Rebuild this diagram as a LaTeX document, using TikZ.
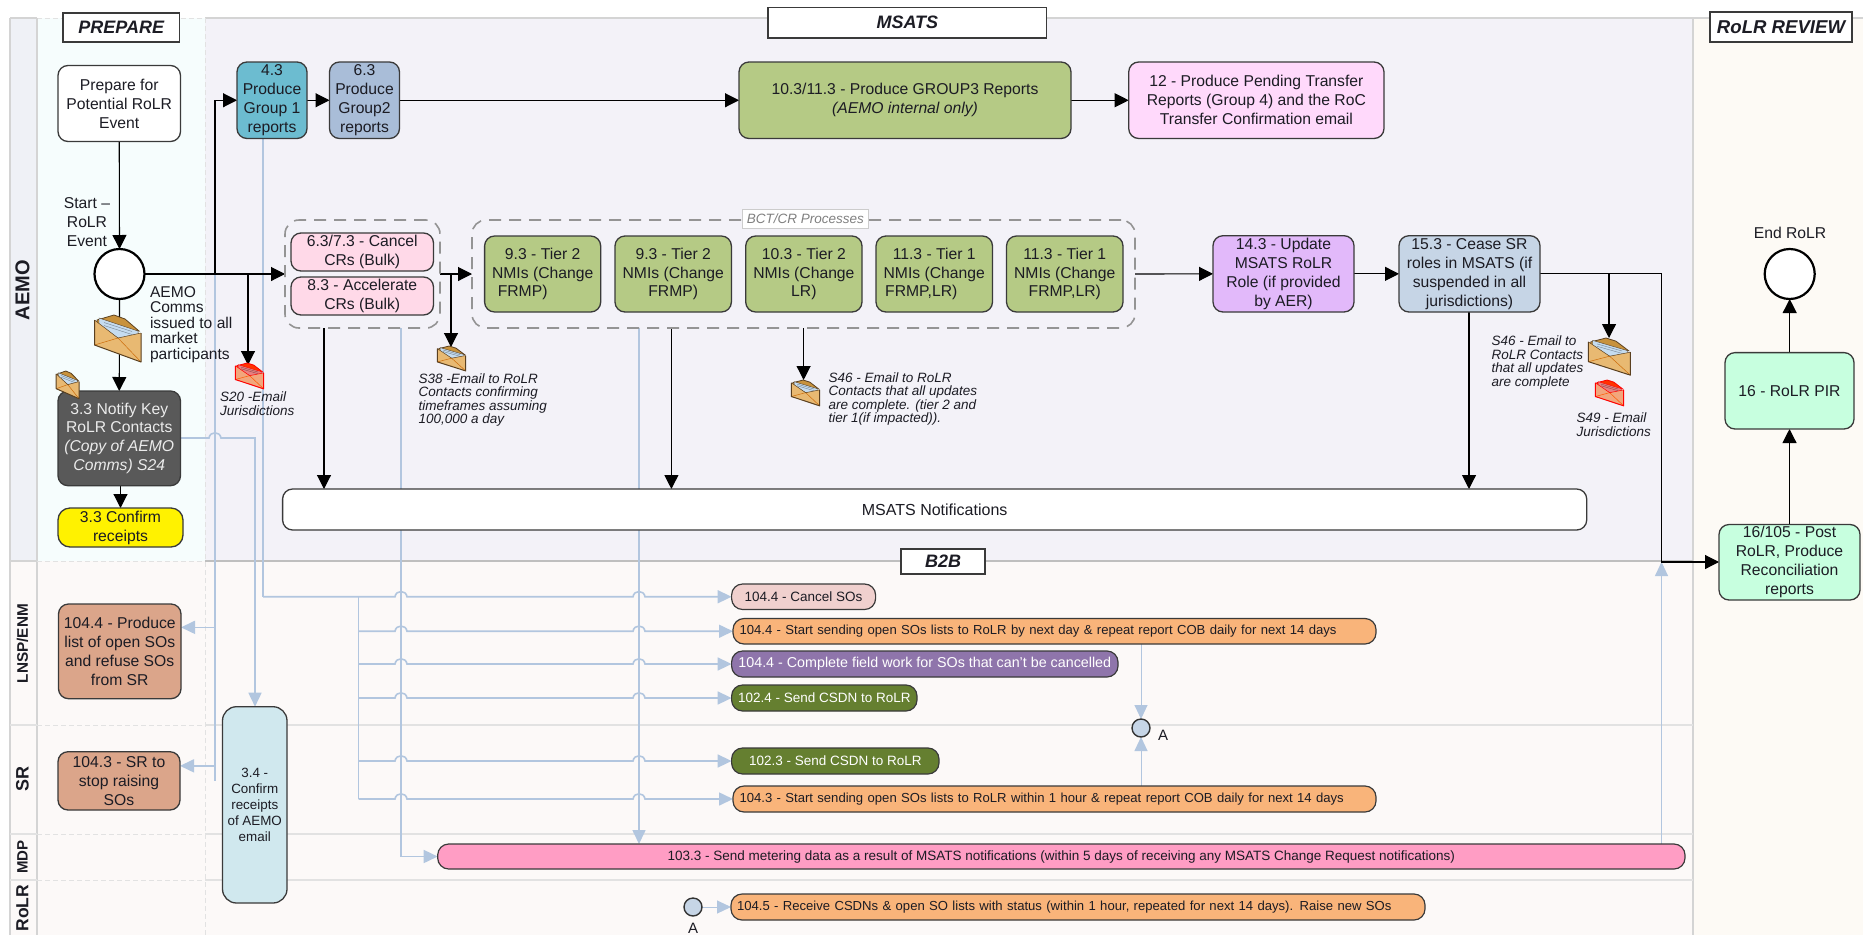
\documentclass[tikz,border=0pt]{standalone}
\usepackage{fontspec}
\setmainfont{Liberation Sans}
\usetikzlibrary{arrows.meta,calc}
\pgfdeclarelayer{bands}
\pgfdeclarelayer{lines}
\pgfsetlayers{bands,lines,main}
\definecolor{bandmsats}{HTML}{F3F2F8}
\definecolor{bandprep}{HTML}{F6FDFD}
\definecolor{bandhead}{HTML}{EFF1F6}
\definecolor{bandlow}{HTML}{FCF9F8}
\definecolor{bandrev}{HTML}{FDFAF5}
\definecolor{grid}{HTML}{D4D4D4}
\definecolor{gridlow}{HTML}{E2E2E2}
\definecolor{wire}{HTML}{B2C6DF}
\definecolor{edge}{HTML}{3A3A3A}
\definecolor{txt}{HTML}{1C1C24}
\definecolor{fteal}{HTML}{6CBCD0}
\definecolor{fslate}{HTML}{A9BDD8}
\definecolor{fgreen}{HTML}{B5CA85}
\definecolor{flilac}{HTML}{FFD9FB}
\definecolor{fpink}{HTML}{FFD9E8}
\definecolor{fpurple}{HTML}{E2B9FA}
\definecolor{fsteel}{HTML}{C6D5E6}
\definecolor{fmint}{HTML}{C7FFDF}
\definecolor{fbrown}{HTML}{DBA58A}
\definecolor{faqua}{HTML}{D0E8EE}
\definecolor{fblush}{HTML}{F0D0CE}
\definecolor{forange}{HTML}{F9B47A}
\definecolor{fviolet}{HTML}{8F75AB}
\definecolor{folive}{HTML}{657F30}
\definecolor{fhot}{HTML}{FF9DC4}
\definecolor{engold}{HTML}{E8B972}
\definecolor{enflap}{HTML}{C8923C}
\definecolor{enline}{HTML}{5A4020}
\definecolor{enletter}{HTML}{C5DCF0}
\definecolor{enrose}{HTML}{F2A67C}
\definecolor{enletterred}{HTML}{E88080}
\newcommand{\fs}[2]{\fontsize{#1}{#2}\selectfont}
\newcommand{\bx}[7]{%
  \pgfmathsetmacro\bxcx{(#2+#4)/2}\pgfmathsetmacro\bxcy{(#3+#5)/2}%
  \pgfmathsetmacro\bxw{#4-#2}\pgfmathsetmacro\bxh{#5-#3}%
  \node[#6,minimum width=\bxw pt,minimum height=\bxh pt] (#1) at (\bxcx,\bxcy) {#7};}
\newcommand{\envraw}[8]{%
  \begin{scope}[shift={(#1,#2)},xscale=#3,yscale=#4]
    \path[draw=#5,fill=#6,line width=.8pt] (3,5) -- (20,0) -- (31,4) -- (45,16) -- (3,12) -- cycle;
    \path[draw=#5,fill=#8,line width=.4pt] (5,3) -- (44,16) -- (45,26) -- (24,23) -- (5,12) -- cycle;
    \path[draw=#8!60!black,line width=.4pt] (10,7.5) -- (38,16.5) (10,10.5) -- (38,19.5);
    \path[fill=#7] (0.5,5) -- (24,23) -- (47,18) -- (47,47) -- (0.5,30) -- cycle;
    \path[draw=#5!30!orange,line width=.5pt] (24,23) -- (47,47) (0.5,30) -- (24,23);
    \path[draw=#5,line width=1pt,line join=round] (0.5,5) -- (0.5,30) -- (47,47) -- (47,18);
    \path[draw=#5,line width=.5pt] (0.5,5) -- (24,23) -- (47,18);
  \end{scope}}
\newcommand{\envgold}[4]{\envraw{#1}{#2}{#3}{#4}{enline}{enflap}{engold}{enletter}}
\newcommand{\envred}[4]{\envraw{#1}{#2}{#3}{#4}{red}{red!60!orange}{enrose}{enletterred}}
\newcommand{\busline}[2]{\draw[wireline] (#1 |- #2.west)
  -- ($(v401 |- #2.west)+(-6,0)$) .. controls +(1,-7) and +(-1,-7) .. ($(v401 |- #2.west)+(6,0)$)
  -- ($(v639 |- #2.west)+(-6,0)$) .. controls +(1,-7) and +(-1,-7) .. ($(v639 |- #2.west)+(6,0)$)
  -- (#2.west);}
\tikzset{
  every node/.style={inner sep=0pt,outer sep=0pt,text=txt},
  boxbase/.style={draw=edge,line width=1.3pt,rounded corners=10pt,align=center,font=\fs{15.7}{18.9}},
  smallbox/.style={boxbase,font=\fs{13.4}{16}},
  pill/.style={draw=edge,line width=1.2pt,rounded corners=11pt,align=center,font=\fs{13.5}{15}},
  pillleft/.style={pill,align=left,text width=#1,font=\fs{13.1}{15}},
  titlebox/.style={draw=edge,line width=1.3pt,fill=white,font=\fs{18}{20}\bfseries\itshape},
  lane/.style={rotate=90,font=\bfseries},
  note/.style={align=left,font=\fs{13.5}{13.4}\itshape},
  label/.style={align=center,font=\fs{15.7}{18.9}},
  dashgroup/.style={draw=black!42,line width=1.6pt,dash pattern=on 12pt off 8pt,rounded corners=14pt},
  flow/.style={draw=black,line width=1.1pt,-{Triangle[length=14pt,width=14pt]}},
  wireline/.style={draw=wire,line width=1.6pt,-{Triangle[length=14pt,width=13pt]}},
  wireplain/.style={draw=wire,line width=1.6pt},
  wirethin/.style={draw=wire,line width=1pt,-{Triangle[length=14pt,width=13pt]}},
  event/.style={circle,draw=black,line width=2.2pt,fill=white,minimum size=50pt},
  connector/.style={circle,draw=black!80,line width=1.4pt,fill=fsteel,minimum size=18pt},
  gridline/.style={draw=grid,line width=1.2pt},
  gridsoft/.style={draw=gridlow,line width=1.2pt},
  griddash/.style={draw=gridlow,line width=1pt,dash pattern=on 5pt off 3pt},
}
\begin{document}
\begin{tikzpicture}[x=1pt,y=-1pt]
\useasboundingbox (0,0) rectangle (1863,935);
% ---------- bands
\begin{pgfonlayer}{bands}
  \fill[bandmsats] (205,18) rectangle (1693,561);
  \fill[bandprep] (37,18) rectangle (205,561);
  \fill[bandhead] (10,18) rectangle (37,561);
  \fill[bandlow] (10,561) rectangle (1693,935);
  \fill[bandrev] (1693,18) rectangle (1863,935);
  \draw[griddash] (37,18) -- (205,18);
  \draw[gridline] (205,18) -- (1863,18);
  \draw[gridline] (10,18) -- (37,18);
  \draw[gridline] (10,18) -- (10,935);
  \draw[gridline] (37,18) -- (37,935);
  \draw[griddash] (205,18) -- (205,935);
  \draw[gridline] (1693,18) -- (1693,935);
  \draw[griddash] (37,561) -- (205,561);
  \draw[griddash] (37,725) -- (205,725);
  \draw[griddash] (37,834) -- (205,834);
  \draw[griddash] (37,880) -- (205,880);
  \draw[draw=black!25,line width=1.6pt] (205,561) -- (1693,561);
  \draw[gridline] (10,561) -- (37,561);
  \draw[gridsoft] (10,725) -- (37,725) (205,725) -- (1693,725);
  \draw[gridsoft] (10,834) -- (37,834) (205,834) -- (1693,834);
  \draw[gridsoft] (10,880) -- (37,880) (205,880) -- (1693,880);
\end{pgfonlayer}
% ---------- titles and lanes
\bx{tprep}{63}{13}{179.5}{42}{titlebox}{PREPARE}
\bx{tmsats}{768}{7.5}{1046.7}{38}{titlebox}{MSATS}
\bx{trev}{1710}{12}{1852}{42}{titlebox,font=\fs{18.6}{20}\bfseries\itshape}{RoLR REVIEW}
\bx{tb2b}{901}{549}{985}{574}{titlebox}{B2B}
\node[lane,font=\fs{20}{22}\bfseries] (laemo) at (22.5,290) {AEMO};
\node[lane,font=\fs{15.3}{17}\bfseries] (llnsp) at (22.5,643.7) {LNSP/ENM};
\node[lane,font=\fs{18}{20}\bfseries] (lsr) at (22.5,779) {SR};
\node[lane,font=\fs{15}{17}\bfseries] (lmdp) at (22.5,857) {MDP};
\node[lane,font=\fs{17.5}{19}\bfseries] (lrolr) at (22.5,908) {RoLR};
% ---------- groups
\bx{g1}{285}{220}{440}{328}{dashgroup}{}
\bx{g2}{472}{220}{1135}{328}{dashgroup}{}
\bx{bct}{742}{209}{868.6}{228}{draw=black!20,line width=1pt,fill=white,text=black!50,font=\fs{13.5}{15}\itshape}{BCT/CR Processes}
% ---------- prepare
\bx{prep}{58}{65.5}{180.5}{141.5}{boxbase,fill=white}{Prepare for\\Potential RoLR\\Event}
\node[event] (start) at (119.5,274) {};
\node[label] (startlab) at (87,222) {Start –\\RoLR\\Event};
\node[note,font=\fs{15.6}{15.6},anchor=west] (commslab) at (150,324.5) {AEMO\\Comms\\issued to all\\market\\participants};
\bx{notify}{58}{391}{180.5}{485.7}{boxbase,fill=black!65,text=black!8}{3.3 Notify Key\\RoLR Contacts\\{\itshape (Copy of AEMO}\\{\itshape Comms) S24}}
\bx{confirm}{58}{508}{183}{547}{boxbase,fill=yellow,rounded corners=12pt}{3.3 Confirm\\receipts}
% ---------- top row
\bx{g1r}{237}{62}{307}{138.5}{boxbase,fill=fteal}{4.3\\Produce\\Group 1\\reports}
\bx{g2r}{329.5}{62}{399.5}{138.5}{boxbase,fill=fslate}{6.3\\Produce\\Group2\\reports}
\bx{g3r}{739}{62}{1071}{138.5}{boxbase,fill=fgreen}{10.3/11.3 - Produce GROUP3 Reports\\{\itshape (AEMO internal only)}}
\bx{g4r}{1128.7}{62}{1384}{138.5}{boxbase,fill=flilac}{12 - Produce Pending Transfer\\Reports (Group 4) and the RoC\\Transfer Confirmation email}
% ---------- middle row
\bx{cancel}{291}{233}{433.5}{271}{boxbase,fill=fpink}{6.3/7.3 - Cancel\\CRs (Bulk)}
\bx{accel}{291}{277}{433.5}{315}{boxbase,fill=fpink}{8.3 - Accelerate\\CRs (Bulk)}
\bx{t1}{484.6}{236}{600.7}{312}{boxbase,fill=fgreen}{9.3 - Tier 2\\NMIs (Change\\FRMP)\rule{40pt}{0pt}}
\bx{t2}{615}{236}{731.4}{312}{boxbase,fill=fgreen}{9.3 - Tier 2\\NMIs (Change\\FRMP)}
\bx{t3}{745.7}{236}{862}{312}{boxbase,fill=fgreen}{10.3 - Tier 2\\NMIs (Change\\LR)}
\bx{t4}{876}{236}{992.5}{312}{boxbase,fill=fgreen}{11.3 - Tier 1\\NMIs (Change\\FRMP,LR)\rule{26pt}{0pt}}
\bx{t5}{1006.5}{236}{1123}{312}{boxbase,fill=fgreen}{11.3 - Tier 1\\NMIs (Change\\FRMP,LR)}
\bx{upd}{1213}{235.7}{1354}{312}{boxbase,fill=fpurple}{14.3 - Update\\MSATS RoLR\\Role (if provided\\by AER)}
\bx{cease}{1399}{235.7}{1540}{312}{boxbase,fill=fsteel}{15.3 - Cease SR\\roles in MSATS (if\\suspended in all\\jurisdictions)}
\bx{notif}{282.6}{489}{1586.7}{530}{boxbase,fill=white,font=\fs{16}{18}}{MSATS Notifications}
% ---------- review
\node[event] (finish) at (1789.7,274) {};
\node[label] (endlab) at (1790,233) {End RoLR};
\bx{pir}{1725}{352.6}{1854}{429}{boxbase,fill=fmint}{16 - RoLR PIR}
\bx{post}{1719}{524.5}{1860}{600}{boxbase,fill=fmint}{16/105 - Post\\RoLR, Produce\\Reconciliation\\reports}
% ---------- B2B participants
\bx{prod}{58.5}{604}{181}{698.7}{boxbase,fill=fbrown}{104.4 - Produce\\list of open SOs\\and refuse SOs\\from SR}
\bx{stop}{58}{751.7}{180}{810}{boxbase,fill=fbrown}{104.3 - SR to\\stop raising\\SOs}
\bx{ack}{222.5}{706.7}{287}{903}{smallbox,rounded corners=14pt,fill=faqua}{3.4 -\\Confirm\\receipts\\of AEMO\\email}
% ---------- pills
\bx{pc}{731.6}{584}{875.6}{609.5}{pill,fill=fblush}{104.4 - Cancel SOs}
\bx{ps}{733}{618.5}{1376}{644}{pillleft=630pt,fill=forange}{104.4 - Start sending open SOs lists to RoLR by next day \& repeat report COB daily for next 14 days}
\bx{pf}{731.6}{651}{1118}{677}{pill,fill=fviolet,text=white,font=\fs{14.3}{15}}{104.4 - Complete field work for SOs that can’t be cancelled}
\bx{pd}{731.6}{685}{917}{711}{pill,fill=folive,text=white}{102.4 - Send CSDN to RoLR}
\bx{pe}{731.6}{748}{939}{774}{pill,fill=folive,text=white}{102.3 - Send CSDN to RoLR}
\bx{pg}{733}{786}{1376}{812}{pillleft=630pt,fill=forange}{104.3 - Start sending open SOs lists to RoLR within 1 hour \& repeat report COB daily for next 14 days}
\bx{pm}{437.7}{844}{1685}{869}{pill,fill=fhot}{103.3 - Send metering data as a result of MSATS notifications (within 5 days of receiving any MSATS Change Request notifications)}
\bx{pr}{731}{894}{1425}{920}{pillleft=682pt,fill=forange}{104.5 - Receive CSDNs \& open SO lists with status (within 1 hour, repeated for next 14 days). Raise new SOs}
\node[connector] (a1) at (1141,728) {};
\node[connector] (a2) at (693,907) {};
\node[font=\fs{15}{16}] (a1lab) at (1163,735) {A};
\node[font=\fs{15}{16}] (a2lab) at (693,928) {A};
% ---------- notes
\node[note,anchor=west] (s20) at (220,403.5) {S20 -Email\\Jurisdictions};
\node[note,anchor=west] (s38) at (418.5,400) {S38 -Email to RoLR\\Contacts confirming\\timeframes assuming\\100,000 a day};
\node[note,anchor=west] (s46a) at (828.6,399) {S46 - Email to RoLR\\Contacts that all updates\\are complete. (tier 2 and\\tier 1(if impacted)).};
\node[note,anchor=west] (s46b) at (1491.7,362.5) {S46 - Email to\\RoLR Contacts\\that all updates\\are complete};
\node[note,anchor=west] (s49) at (1576.7,424.5) {S49 - Email\\Jurisdictions};
% ---------- envelopes
\envgold{94}{315}{1}{1}
\envgold{56}{371}{.49}{.59}
\envred{235}{363}{.61}{.55}
\envgold{437}{346}{.61}{.53}
\envgold{791}{380}{.61}{.55}
\envgold{1588}{338}{.9}{.79}
\envred{1595}{380}{.61}{.55}
% ---------- routing guides and junctions
\coordinate (v215) at (215,0);
\coordinate (v248) at (248,0);
\coordinate (v255) at (255,0);
\coordinate (v263) at (263,0);
\coordinate (v324) at (324,0);
\coordinate (v358) at (358.5,0);
\coordinate (v401) at (401,0);
\coordinate (v451) at (451,0);
\coordinate (v639) at (639,0);
\coordinate (v671) at (671.4,0);
\coordinate (v804) at (803.6,0);
\coordinate (v1469) at (1469,0);
\coordinate (v1609) at (1609,0);
\coordinate (v1661) at (1661.5,0);
\coordinate (h438) at (0,438);
\coordinate (h562) at (0,562);
\coordinate (envS20) at (248,365);
\coordinate (envS38) at (451,347);
\coordinate (envS46) at (803.6,380);
\coordinate (envS46b) at (1609,338);
% ---------- connectors
\begin{pgfonlayer}{lines}
  % blue
  \draw[wireplain] (v215 |- start.east) -- (v215 |- stop.east);
  \draw[wireline] (v215 |- prod.east) ++(0,-24) -- ++(-34,0);
  \draw[wireline] (v215 |- stop.east) ++(0,-15) -- ++(-35,0);
  \draw[wireline] (notify.east |- h438) -- ($(v215 |- h438)+(-6,0)$) .. controls +(1,-7) and +(-1,-7) .. ($(v215 |- h438)+(6,0)$) -- (v255 |- h438) -- (v255 |- ack.north);
  \draw[wireplain] (v263 |- g1r.south) -- (v263 |- pc.west);
  \busline{v263}{pc}
  \draw[wireplain] (v358 |- pc.west) -- (v358 |- pg.west);
  \busline{v358}{ps}
  \busline{v358}{pf}
  \busline{v358}{pd}
  \busline{v358}{pe}
  \busline{v358}{pg}
  \draw[wireline] (v401 |- g1.south) -- (v401 |- pm.west) -- (pm.west);
  \draw[wireline] (v639 |- g2.south) -- (v639 |- pm.north);
  \draw[wirethin] (a1 |- ps.south) -- (a1.north);
  \draw[wirethin] (a1 |- pg.north) -- (a1.south);
  \draw[wirethin] (v1661 |- pm.north) -- (v1661 |- h562);
  \draw[wirethin] (a2.east) -- (pr.west);
  % black
  \draw[flow] (prep.south) -- (start.north);
  \draw[flow] (start.east) -- (g1.west);
  \draw[flow] (v215 |- start.east) -- (v215 |- g1r.west) -- (g1r.west);
  \draw[flow] (v248 |- start.east) -- (envS20);
  \draw[flow] (start.south) -- (notify.north);
  \draw[flow] (notify.south -| confirm.north) -- (confirm.north);
  \draw[flow] (g1r.east) -- (g2r.west);
  \draw[flow] (g2r.east) -- (g3r.west);
  \draw[flow] (g3r.east) -- (g4r.west);
  \draw[flow] (g1.east) -- (g2.west);
  \draw[flow] (v451 |- g1.east) -- (envS38);
  \draw[flow] (v324 |- g1.south) -- (v324 |- notif.north);
  \draw[flow] (v671 |- g2.south) -- (v671 |- notif.north);
  \draw[flow] (v804 |- g2.south) -- (envS46);
  \draw[flow] (g2.east) -- (upd.west);
  \draw[flow] (upd.east) -- (cease.west);
  \draw[flow] (v1469 |- cease.south) -- (v1469 |- notif.north);
  \draw[flow] (cease.east) -- (v1661 |- cease.east) -- (v1661 |- h562) -- (post.west |- h562);
  \draw[flow] (v1609 |- cease.east) -- (envS46b);
  \draw[flow] (post.north -| pir.south) -- (pir.south);
  \draw[flow] (pir.north -| finish.south) -- (finish.south);
\end{pgfonlayer}
\end{tikzpicture}
\end{document}
